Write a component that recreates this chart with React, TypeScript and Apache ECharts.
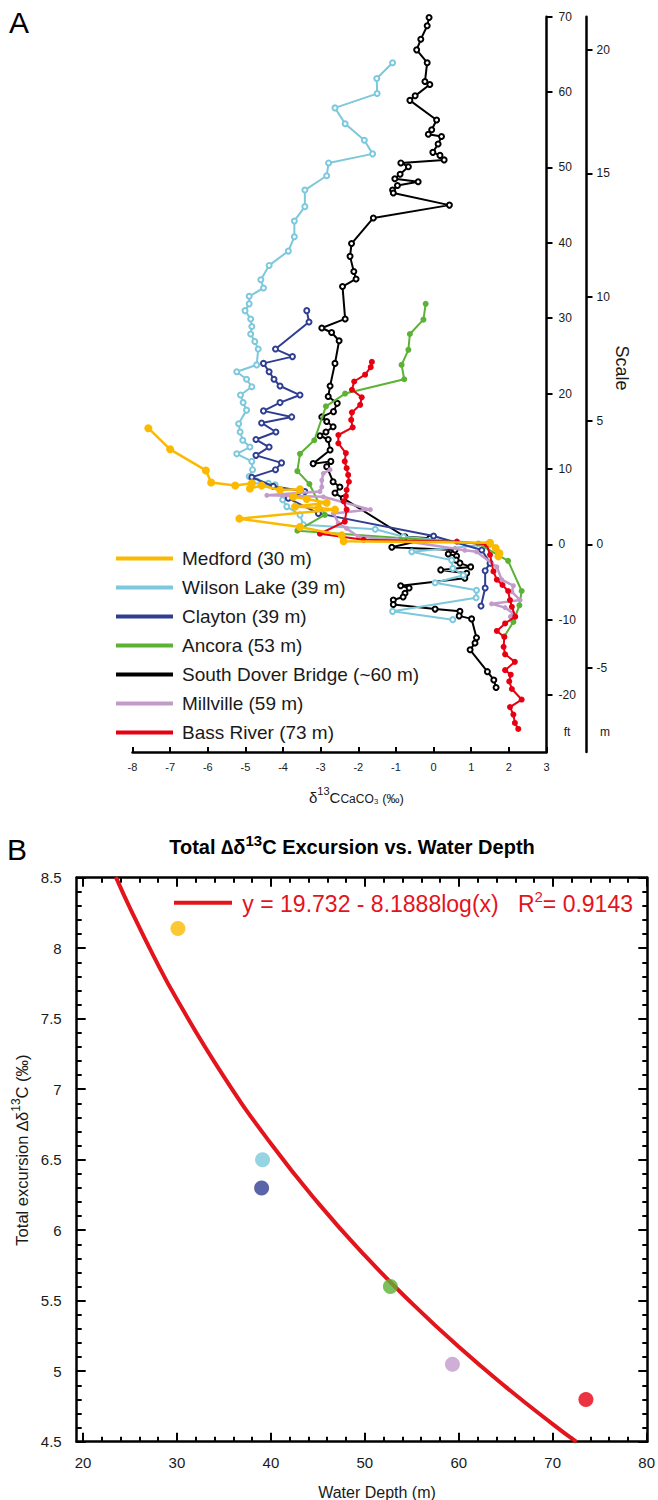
import React, { useEffect, useRef } from "react";
import * as echarts from "echarts";

// ---------- Panel A data: [delta13C (permil), depth (ft)] ----------
const siteNames = [
  "Medford (30 m)",
  "Wilson Lake (39 m)",
  "Clayton (39 m)",
  "Ancora (53 m)",
  "South Dover Bridge (~60 m)",
  "Millville (59 m)",
  "Bass River (73 m)",
];
const siteColors = ["#FBBA00", "#7CC8DC", "#2F3E92", "#5BB234", "#000000", "#C39BCB", "#E60012"];

const medford: number[][] = [
  [-7.58, 15.4], [-7.0, 12.6], [-6.05, 9.8], [-5.91, 8.2], [-5.27, 7.8], [-4.83, 8.1], [-4.88, 7.4],
  [-4.57, 7.8], [-4.08, 7.2], [-3.55, 7.3], [-3.73, 6.3], [-3.37, 6.0], [-2.84, 5.5], [-3.68, 5.0],
  [-3.06, 4.8], [-2.62, 4.6], [-5.16, 3.4], [-3.55, 2.3], [-2.44, 1.2], [-2.39, 0.4], [1.5, 0.2],
  [1.65, -0.5], [1.75, -1.2], [1.72, -1.6],
];
const wilsonLake: number[][] = [
  [-1.09, 63.9], [-1.51, 61.8], [-1.5, 59.8], [-2.62, 57.9], [-2.35, 55.8], [-1.84, 53.6], [-1.62, 51.8],
  [-2.79, 50.6], [-2.84, 48.9], [-3.42, 47.0], [-3.42, 44.8], [-3.7, 42.9], [-3.7, 40.8], [-3.86, 38.9],
  [-4.37, 37.0], [-4.59, 35.1], [-4.52, 34.0], [-4.9, 32.9], [-4.9, 31.9], [-5.01, 31.0], [-4.86, 29.9],
  [-4.83, 28.9], [-4.86, 27.9], [-4.75, 26.9], [-4.66, 25.9], [-4.7, 23.8], [-5.23, 22.9], [-4.97, 21.9],
  [-4.83, 20.9], [-5.13, 19.8], [-5.06, 18.8], [-4.97, 17.8], [-5.18, 16.0], [-5.14, 14.9], [-5.07, 13.8],
  [-4.88, 12.9], [-5.23, 12.0], [-4.83, 11.0], [-4.81, 9.9], [-4.9, 9.0], [-4.7, 8.4], [-4.39, 8.1],
  [-4.21, 7.9], [-4.01, 5.9], [-3.9, 5.0], [-3.55, 3.9], [-3.46, 2.6], [-1.55, 2.0], [-0.8, 1.0],
  [1.5, 0.0], [-0.58, -1.0], [0.48, -2.1], [0.51, -3.2], [0.79, -4.1], [0.04, -5.1], [1.14, -6.1],
  [1.13, -7.1], [-1.09, -8.9], [0.51, -10.0],
];
const clayton: number[][] = [
  [-3.37, 31.0], [-3.31, 29.5], [-4.2, 25.9], [-3.75, 24.9], [-4.52, 24.0], [-4.37, 22.9], [-4.24, 21.9],
  [-4.08, 21.0], [-3.55, 19.8], [-4.08, 18.8], [-4.52, 17.7], [-3.77, 16.9], [-4.57, 16.1], [-4.19, 14.9],
  [-4.72, 13.9], [-4.37, 12.9], [-4.72, 11.8], [-4.04, 10.8], [-4.2, 9.9], [-4.83, 8.9], [-4.26, 7.7],
  [-3.42, 7.0], [-3.86, 6.1], [-3.06, 4.1], [0.0, 1.1], [1.28, -0.76], [1.5, -2.5], [1.37, -3.5],
  [1.37, -5.8], [1.26, -8.2],
];
const ancora: number[][] = [
  [-0.21, 31.9], [-0.27, 29.8], [-0.63, 27.9], [-0.67, 25.8], [-0.85, 23.8], [-0.78, 21.9], [-2.35, 20.0],
  [-2.86, 18.3], [-3.17, 13.8], [-3.55, 12.0], [-3.62, 9.7], [-3.3, 8.0], [-2.89, 3.9], [-3.62, 1.8],
  [1.19, 0.1], [1.98, -2.2], [2.34, -6.2], [2.28, -8.1], [2.12, -10.3], [1.88, -12.2],
];
const southDover: number[][] = [
  [-0.12, 69.9], [-0.17, 68.8], [-0.34, 67.0], [-0.45, 65.6], [-0.17, 63.9], [-0.23, 61.4], [-0.1, 61.0],
  [-0.49, 59.5], [-0.63, 58.9], [0.08, 56.3], [-0.05, 55.0], [-0.14, 54.4], [0.21, 54.1], [0.12, 53.1],
  [-0.02, 52.0], [0.17, 51.6], [0.28, 51.0], [-0.87, 50.6], [-0.67, 50.1], [-0.89, 49.1], [-1.03, 48.5],
  [-0.41, 48.1], [-0.96, 47.6], [-1.09, 47.0], [-1.07, 46.6], [0.42, 45.0], [-1.6, 43.3], [-2.18, 39.9],
  [-2.22, 38.2], [-2.12, 36.2], [-2.06, 35.2], [-2.42, 34.2], [-2.35, 29.9], [-2.97, 28.7], [-2.71, 28.1],
  [-2.51, 27.0], [-2.62, 24.0], [-2.75, 21.0], [-2.8, 19.6], [-2.56, 18.7], [-2.66, 17.6], [-2.97, 16.9],
  [-2.84, 16.3], [-2.67, 15.6], [-2.86, 14.9], [-3.02, 14.4], [-2.8, 13.9], [-2.75, 12.5], [-3.2, 10.7],
  [-2.73, 11.0], [-2.84, 10.3], [-2.67, 8.3], [-2.49, 7.6], [-2.62, 6.8], [-2.4, 6.1], [-0.76, 1.0],
  [-0.1, 0.8], [-1.11, -0.4], [0.57, -0.76], [0.39, -1.3], [0.61, -1.55], [0.6, -2.1], [0.7, -2.5],
  [0.985, -3.0], [0.19, -3.4], [0.88, -3.85], [0.83, -4.5], [-0.875, -5.5], [-0.65, -5.8], [-0.76, -6.5],
  [-0.81, -7.0], [-1.07, -7.4], [-1.07, -8.0], [0.04, -8.6], [0.7, -8.9], [0.68, -9.5], [1.01, -9.9],
  [1.14, -12.4], [1.1, -13.1], [0.97, -14.0], [1.43, -16.9], [1.6, -18.0], [1.66, -19.0],
];
const millville: number[][] = [
  [-2.75, 9.9], [-2.93, 9.4], [-2.97, 8.5], [-2.97, 7.6], [-3.02, 7.0], [-4.43, 6.5], [-2.93, 6.3],
  [-1.68, 4.6], [-2.66, 4.1], [-2.53, 2.8], [-2.31, 2.1], [-2.0, 1.0], [-0.98, 0.6], [0.83, -0.8],
  [1.14, -1.0], [1.68, -3.0], [1.81, -4.7], [2.12, -5.5], [2.08, -6.3], [2.3, -7.4], [1.54, -7.9],
  [1.9, -8.4], [2.12, -9.2], [2.04, -9.6],
];
const bassRiver: number[][] = [
  [-1.64, 24.2], [-1.67, 23.5], [-1.82, 22.5], [-2.11, 21.6], [-2.17, 20.5], [-1.91, 19.5], [-1.95, 18.5],
  [-2.17, 17.5], [-2.19, 16.5], [-2.15, 15.5], [-2.53, 14.5], [-2.53, 13.4], [-2.33, 12.1], [-2.36, 11.0],
  [-2.31, 10.1], [-2.27, 9.2], [-2.25, 8.3], [-2.31, 7.2], [-2.33, 6.4], [-2.39, 5.7], [-2.31, 4.6],
  [-2.36, 3.0], [-3.02, 1.4], [-1.86, 0.6], [0.62, 0.35], [1.41, 0.0], [1.5, -1.4], [1.59, -3.6],
  [1.68, -4.7], [1.83, -5.4], [1.98, -6.2], [2.03, -7.4], [2.08, -8.3], [2.17, -9.6], [1.9, -10.5],
  [1.68, -11.5], [1.88, -12.3], [1.86, -13.6], [1.9, -14.6], [2.16, -15.6], [1.9, -16.7], [2.05, -17.3],
  [2.01, -18.2], [2.08, -19.2], [2.34, -20.6], [2.03, -21.6], [2.12, -22.6], [2.16, -23.7], [2.25, -24.5],
];

const ftTicks = [-20, -10, 0, 10, 20, 30, 40, 50, 60, 70];
const mTicks = [-5, 0, 5, 10, 15, 20];

// ---------- Panel B data ----------
const depthM = [30.1, 39.1, 39.0, 52.7, 59.3, 73.5];
const excursion = [8.14, 6.5, 6.3, 5.6, 5.05, 4.8];
const excursionColors = ["#FBBA00", "#7CC8DC", "#2F3E92", "#5BB234", "#C39BCB", "#E60012"];
// fitted curve y = 19.732 - 8.1888 log(x), sampled
const fitX = [23.5, 25, 27.5, 30, 35, 40, 45, 50, 55, 60, 65, 70, 72.5];
const fitY = [8.504, 8.285, 7.946, 7.636, 7.088, 6.613, 6.194, 5.819, 5.481, 5.171, 4.887, 4.623, 4.498];
const bMajorX = [20, 30, 40, 50, 60, 70, 80];
const bMinorX = [22, 24, 26, 28, 32, 34, 36, 38, 42, 44, 46, 48, 52, 54, 56, 58, 62, 64, 66, 68, 72, 74, 76, 78];
const bMajorY = [4.5, 5, 5.5, 6, 6.5, 7, 7.5, 8, 8.5];
const bMinorY = [
  4.6, 4.7, 4.8, 4.9, 5.1, 5.2, 5.3, 5.4, 5.6, 5.7, 5.8, 5.9, 6.1, 6.2, 6.3, 6.4, 6.6, 6.7, 6.8, 6.9,
  7.1, 7.2, 7.3, 7.4, 7.6, 7.7, 7.8, 7.9, 8.1, 8.2, 8.3, 8.4,
];

const FONT = '"Liberation Sans", Arial, Helvetica, sans-serif';

const siteData = [medford, wilsonLake, clayton, ancora, southDover, millville, bassRiver];
const hollow = [false, true, true, false, true, false, false];
const symSizes = [8, 5, 5, 6, 5, 5, 6];
const lineWidths = [2.5, 2, 2, 2, 2, 2.5, 2];
const drawOrder = [4, 1, 2, 3, 5, 6, 0];

const GRID_A = { left: 132.5, right: 111.5, top: 16.7, bottom: 748 };
const GRID_B = { left: 76.7, right: 10.7, top: 877.7, bottom: 58.3 };
const A_X = { min: -8, max: 3 };
const A_FT = { min: -27.56, max: 70 };
const A_M = { min: -8.4, max: 21.336 };
const B_X = { min: 19.33, max: 80.03 };
const B_Y = { min: 4.5, max: 8.5 };

const black = "#000";

function tickAxis(range: any, gridIndex: number, pos: string, values: number[], len: number, withLine: boolean, labels: boolean, isX: boolean) {
  return {
    type: "value", gridIndex, ...range, position: pos,
    splitLine: { show: false },
    axisLine: { show: withLine, onZero: false, lineStyle: { color: black, width: 2.5 } },
    axisTick: { show: true, inside: true, length: len, customValues: values, lineStyle: { color: black, width: 2 } },
    axisLabel: labels
      ? { show: true, customValues: values, fontSize: 15, color: "#1a1a1a", margin: isX ? 13 : 15 }
      : { show: false },
  };
}

const hiddenAxis = (range: any, gridIndex: number) => ({ type: "value", gridIndex, ...range, show: false });

// Main axes layer (white background)
function baseAxesOption() {
  return {
    animation: false,
    backgroundColor: "#fff",
    textStyle: { fontFamily: FONT },
    grid: [GRID_A, GRID_B],
    xAxis: [
      {
        type: "value", gridIndex: 0, ...A_X, interval: 1, position: "bottom",
        axisLine: { show: true, onZero: false, lineStyle: { color: black, width: 2.5 } },
        axisTick: { show: true, inside: true, length: 5, lineStyle: { color: black, width: 2 } },
        axisLabel: { fontSize: 11, color: "#1a1a1a", margin: 9 },
        splitLine: { show: false },
      },
      tickAxis(B_X, 1, "bottom", bMajorX, 9, true, true, true),
      tickAxis(B_X, 1, "bottom", bMinorX, 5, false, false, true),
      tickAxis(B_X, 1, "top", bMajorX, 9, true, false, true),
    ],
    yAxis: [
      {
        type: "value", gridIndex: 0, ...A_FT, position: "right",
        axisLine: { show: true, onZero: false, lineStyle: { color: black, width: 2.5 } },
        axisTick: { show: true, inside: false, length: 6, customValues: ftTicks, lineStyle: { color: black, width: 2 } },
        axisLabel: { show: true, customValues: ftTicks, fontSize: 12, color: "#1a1a1a", margin: 12 },
        splitLine: { show: false },
      },
      tickAxis(B_Y, 1, "left", bMajorY, 9, true, true, false),
    ],
  };
}

// Single extra axis per layer (transparent)
function soloOption(grid: any, xAxis: any, yAxis: any) {
  return {
    animation: false,
    textStyle: { fontFamily: FONT },
    grid: [grid],
    xAxis: [xAxis],
    yAxis: [yAxis],
  };
}

function extraLayers() {
  return [
    soloOption(GRID_A, hiddenAxis(A_X, 0), {
      type: "value", gridIndex: 0, ...A_M, position: "right", offset: 40,
      axisLine: { show: true, onZero: false, lineStyle: { color: black, width: 2.5 } },
      axisTick: { show: true, inside: false, length: 6, customValues: mTicks, lineStyle: { color: black, width: 2 } },
      axisLabel: { show: true, customValues: mTicks, fontSize: 12, color: "#1a1a1a", margin: 10 },
      splitLine: { show: false },
    }),
    soloOption(GRID_B, tickAxis(B_X, 0, "top", bMinorX, 5, false, false, true), hiddenAxis(B_Y, 0)),
    soloOption(GRID_B, hiddenAxis(B_X, 0), tickAxis(B_Y, 0, "left", bMinorY, 5, false, false, false)),
    soloOption(GRID_B, hiddenAxis(B_X, 0), tickAxis(B_Y, 0, "right", bMajorY, 9, true, false, false)),
    soloOption(GRID_B, hiddenAxis(B_X, 0), tickAxis(B_Y, 0, "right", bMinorY, 5, false, false, false)),
  ];
}

// Data layer: series, legend and annotations (axes hidden, same geometry)
function dataOption() {
  const seriesA = drawOrder.map((i, k) => ({
    type: "line",
    name: siteNames[i],
    xAxisIndex: 0,
    yAxisIndex: 0,
    data: siteData[i],
    symbol: hollow[i] ? "emptyCircle" : "circle",
    symbolSize: symSizes[i],
    showSymbol: true,
    lineStyle: { color: siteColors[i], width: lineWidths[i] },
    itemStyle: { color: siteColors[i], borderWidth: hollow[i] ? 1.6 : 0 },
    emphasis: { disabled: true },
    z: 2 + k,
  }));
  return {
    animation: false,
    textStyle: { fontFamily: FONT },
    grid: [GRID_A, GRID_B],
    xAxis: [hiddenAxis(A_X, 0), hiddenAxis(B_X, 1)],
    yAxis: [hiddenAxis(A_FT, 0), hiddenAxis(B_Y, 1)],
    legend: {
      orient: "vertical",
      left: 116,
      top: 549,
      padding: 0,
      itemWidth: 57,
      itemHeight: 4,
      itemGap: 10,
      icon: "rect",
      selectedMode: false,
      data: siteNames.map((n, i) => ({ name: n, itemStyle: { color: siteColors[i], borderWidth: 0 } })),
      textStyle: { fontSize: 19, color: "#1a1a1a", fontFamily: FONT, padding: [0, 0, 0, 4] },
    },
    series: [
      ...seriesA,
      {
        type: "line",
        name: "fit",
        xAxisIndex: 1,
        yAxisIndex: 1,
        data: fitX.map((x, i) => [x, fitY[i]]),
        smooth: true,
        showSymbol: false,
        symbol: "none",
        lineStyle: { color: "#E3141B", width: 4 },
        emphasis: { disabled: true },
        z: 3,
      },
      {
        type: "scatter",
        name: "excursion",
        xAxisIndex: 1,
        yAxisIndex: 1,
        symbolSize: 15,
        data: depthM.map((x, i) => ({ value: [x, excursion[i]], itemStyle: { color: excursionColors[i] } })),
        emphasis: { disabled: true },
        z: 5,
      },
    ],
    graphic: [
      { type: "text", x: 9, y: 22, style: { text: "A", fontSize: 30, fontFamily: FONT, fill: "#000", textVerticalAlign: "middle", verticalAlign: "middle" } },
      { type: "text", x: 7, y: 849, style: { text: "B", fontSize: 30, fontFamily: FONT, fill: "#000", textVerticalAlign: "middle", verticalAlign: "middle" } },
      {
        type: "text", x: 622, y: 368, rotation: -Math.PI / 2,
        style: { text: "Scale", fontSize: 18, fontFamily: FONT, fill: "#1a1a1a", textAlign: "center", align: "center", textVerticalAlign: "middle", verticalAlign: "middle" },
      },
      { type: "text", x: 567, y: 731.7, style: { text: "ft", fontSize: 12, fontFamily: FONT, fill: "#1a1a1a", textAlign: "center", align: "center", textVerticalAlign: "middle", verticalAlign: "middle" } },
      { type: "text", x: 605, y: 731.7, style: { text: "m", fontSize: 12, fontFamily: FONT, fill: "#1a1a1a", textAlign: "center", align: "center", textVerticalAlign: "middle", verticalAlign: "middle" } },
      {
        type: "text", x: 309, y: 795,
        style: {
          text: "{n|δ}{sup|13}{n|C}{sub|CaCO₃}{p| (‰)}",
          fontFamily: FONT, fill: "#1a1a1a", textVerticalAlign: "middle", verticalAlign: "middle",
          rich: {
            n: { fontSize: 15, fontFamily: FONT, lineHeight: 19, verticalAlign: "bottom" },
            sup: { fontSize: 11, fontFamily: FONT, lineHeight: 19, verticalAlign: "top" },
            sub: { fontSize: 12, fontFamily: FONT, lineHeight: 15, verticalAlign: "bottom" },
            p: { fontSize: 13, fontFamily: FONT, lineHeight: 17, verticalAlign: "bottom" },
          },
        },
      },
      {
        type: "text", x: 352, y: 845,
        style: {
          text: "{n|Total ∆δ}{sup|13}{n|C Excursion vs. Water Depth}",
          fontFamily: FONT, fill: "#000", textAlign: "center", align: "center", textVerticalAlign: "middle", verticalAlign: "middle",
          rich: {
            n: { fontSize: 20, fontWeight: "bold", fontFamily: FONT, lineHeight: 24, verticalAlign: "bottom" },
            sup: { fontSize: 15, fontWeight: "bold", fontFamily: FONT, lineHeight: 24, verticalAlign: "top" },
          },
        },
      },
      {
        type: "line", shape: { x1: 174, y1: 902.7, x2: 232, y2: 902.7 },
        style: { stroke: "#E3141B", lineWidth: 4 },
      },
      {
        type: "text", x: 633, y: 902,
        style: {
          text: "{n|y = 19.732 - 8.1888log(x)   R}{sup|2}{n|= 0.9143}",
          fontFamily: FONT, fill: "#E3141B", textAlign: "right", align: "right", textVerticalAlign: "middle", verticalAlign: "middle",
          rich: {
            n: { fontSize: 23, fontFamily: FONT, lineHeight: 26, verticalAlign: "bottom", fill: "#E3141B", color: "#E3141B" },
            sup: { fontSize: 15, fontFamily: FONT, lineHeight: 26, verticalAlign: "top", fill: "#E3141B", color: "#E3141B" },
          },
        },
      },
      {
        type: "text", x: 20, y: 1150, rotation: Math.PI / 2,
        style: {
          text: "{n|Total excursion ∆δ}{sup|13}{n|C (‰)}",
          fontFamily: FONT, fill: "#1a1a1a", textAlign: "center", align: "center", textVerticalAlign: "middle", verticalAlign: "middle",
          rich: {
            n: { fontSize: 16.5, fontFamily: FONT, lineHeight: 20, verticalAlign: "bottom" },
            sup: { fontSize: 12, fontFamily: FONT, lineHeight: 20, verticalAlign: "top" },
          },
        },
      },
      {
        type: "text", x: 377, y: 1492,
        style: { text: "Water Depth (m)", fontSize: 16, fontFamily: FONT, fill: "#1a1a1a", textAlign: "center", align: "center", textVerticalAlign: "middle", verticalAlign: "middle" },
      },
    ],
  };
}

const layerStyle: React.CSSProperties = { position: "absolute", left: 0, top: 0, width: 658, height: 1500 };

export default function App() {
  const wrapRef = useRef<HTMLDivElement>(null);
  useEffect(() => {
    const wrap = wrapRef.current;
    if (!wrap) return;
    const options = [baseAxesOption(), ...extraLayers(), dataOption()];
    const charts: any[] = [];
    const divs: HTMLDivElement[] = [];
    options.forEach((opt) => {
      const d = document.createElement("div");
      d.style.position = "absolute";
      d.style.left = "0px";
      d.style.top = "0px";
      d.style.width = "658px";
      d.style.height = "1500px";
      wrap.appendChild(d);
      divs.push(d);
      const c = echarts.init(d, null, { renderer: "svg" });
      try {
        c.setOption(opt as any);
      } catch (e) {
        // keep other layers alive
      }
      charts.push(c);
    });
    return () => {
      charts.forEach((c) => c.dispose());
      divs.forEach((d) => d.remove());
    };
  }, []);
  return <div ref={wrapRef} style={{ ...layerStyle, background: "#fff" }} />;
}
